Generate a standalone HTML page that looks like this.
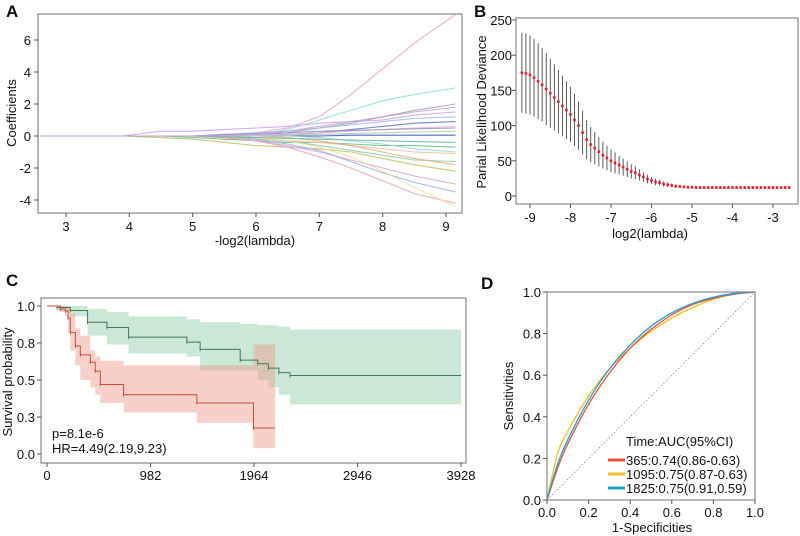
<!DOCTYPE html>
<html><head><meta charset="utf-8"><style>
html,body{margin:0;padding:0;background:#fff;}
svg{display:block;font-family:"Liberation Sans",sans-serif;}
</style></head><body>
<svg id="fig" width="800" height="536" viewBox="0 0 800 536"></svg>
<script>
// ---------- Panel A data ----------
const aLambda=[2.6,3.9,4.5,5,5.5,6,6.5,7,7.5,8,8.5,9.15];
const aSeries=[
[0,0,0,0,0.05,0.2,0.5,1.2,2.6,4.2,5.8,7.6],
[0,0,0,0,0,0.1,0.4,1.0,1.6,2.2,2.6,3.0],
[0,0,0,0,0,0.05,0.2,0.5,0.8,1.2,1.6,2.0],
[0,0,0.3,0.3,0.4,0.5,0.6,0.8,0.9,1.0,1.3,1.5],
[0,0,0,0,0.1,0.2,0.3,0.5,0.7,0.9,1.1,1.2],
[0,0,0,0,0,0,0.1,0.2,0.4,0.6,0.8,0.9],
[0,0,0,0,0,0.05,0.1,0.2,0.3,0.4,0.5,0.6],
[0,0,0,0,0,0,0,0,0.05,0.05,0.05,0.05],
[0,0,0,0,0,0,0.05,0.1,0.15,0.2,0.25,0.3],
[0,0,0,-0.1,-0.2,-0.3,-0.4,-0.4,-0.5,-0.6,-0.6,-0.7],
[0,0,0,0,-0.1,-0.2,-0.3,-0.4,-0.6,-0.8,-1.0,-1.1],
[0,0,0,0,0,-0.1,-0.3,-0.6,-0.9,-1.2,-1.5,-1.6],
[0,0,-0.1,-0.2,-0.4,-0.6,-0.7,-0.8,-1.0,-1.4,-1.8,-2.2],
[0,0,0,0,-0.1,-0.3,-0.6,-1.0,-1.5,-2.0,-2.5,-3.0],
[0,0,0,0,0,-0.2,-0.5,-0.9,-1.6,-2.3,-2.9,-3.5],
[0,0,0,0,-0.1,-0.3,-0.7,-1.3,-2.0,-2.8,-3.6,-4.2],
[0,0,0,0,0,-0.1,-0.3,-0.7,-1.3,-2.2,-3.2,-4.4],
[0,0,0,0,0,0,-0.1,-0.3,-0.6,-1.0,-1.4,-1.8],
[0,0,0,0,0,0,0,-0.1,-0.3,-0.5,-0.8,-1.0],
[0,0,0,0,0.1,0.15,0.2,0.3,0.35,0.4,0.45,0.5],
[0,0,0,0,-0.05,-0.1,-0.15,-0.2,-0.25,-0.3,-0.35,-0.4],
[0,0,0,0,0,0.1,0.3,0.6,0.9,1.2,1.5,1.8]
];
const aColors=["#f0a0c0","#8fd8d8","#a0a0a0","#c8a0e0","#a8b8e8","#6070c8","#e8b0e0","#3050c0","#b0c8a0","#60c080","#f0c0a0","#90c8a0","#c0c060","#d8a0d0","#90b0e8","#e8a0c0","#f0e0a0","#e0b080","#a0d0e0","#9090c0","#70b090","#c0a0d8"];
const aXTicks=[3,4,5,6,7,8,9];
const aYTicks=[-4,-2,0,2,4,6];
// ---------- Panel B data ----------
const bStart=-9.2, bStep=0.1;
const bMean=[175,174,172,168,163,158,152,146,140,134,128,122,116,108,100,90,80,73,68,63,58,54,50,47,44,41,38,35,33,30,27,24,22,20,19,17,16,15,14,13.5,13,
12.5,12.5,12,12,12,12,12,12,12,12,12,12,12,12,12,12,12,12,12,12,12,12,12,12,12,12];
const bHalf=[57,57,56,55,54,52,51,49,47,45,43,41,39,37,34,31,28,25,23,21,19,17.5,16,15,13,12,11,10,9,8,7,6,5,4.5,4,3.5,3,2.7,2.5,2.2,2,
2,2,2,2,2,2,2,2,2,2,2,2,2,2,2,2,2,2,2,2,2,2,2,2,2,2];
const bXTicks=[-9,-8,-7,-6,-5,-4,-3];
const bYTicks=[0,50,100,150,200,250];
// ---------- Panel C data ----------
const gTime=[0,95,221,385,569,774,1327,1453,1833,2000,2100,2200,2306];
const gSurv=[1,0.99,0.97,0.89,0.855,0.79,0.756,0.707,0.634,0.61,0.58,0.55,0.53];
const gUpper=[1,1,1,0.98,0.96,0.93,0.91,0.89,0.88,0.87,0.87,0.86,0.84];
const gLower=[1,0.97,0.93,0.8,0.74,0.68,0.66,0.565,0.565,0.5,0.45,0.4,0.335];
const gEnd=3928;
const rTime=[0,126,174,200,221,269,316,411,458,506,727,1422,1959];
const rSurv=[1,0.98,0.966,0.92,0.82,0.73,0.67,0.62,0.56,0.47,0.40,0.345,0.176];
const rUpper=[1,1,1,1,0.95,0.85,0.8,0.7,0.66,0.63,0.6,0.6,0.74];
const rLower=[1,0.96,0.93,0.82,0.7,0.6,0.5,0.45,0.4,0.345,0.28,0.21,0.04];
const rEnd=2164;
const cXTicks=[0,982,1964,2946,3928];
const cYTicks=[0,0.25,0.5,0.75,1];
const cYLabels=["0.0","0.3","0.5","0.8","1.0"];
// ---------- Panel D data ----------
const dFpr=[0,0.05,0.1,0.2,0.3,0.4,0.5,0.6,0.7,0.8,0.9,1];
const dRed=[0,0.15,0.27,0.46,0.61,0.73,0.82,0.89,0.94,0.97,0.99,1];
const dYellow=[0,0.22,0.33,0.5,0.63,0.73,0.81,0.875,0.925,0.965,0.99,1];
const dBlue=[0,0.17,0.29,0.48,0.63,0.745,0.835,0.9,0.945,0.975,0.993,1];
const dTicks=[0,0.2,0.4,0.6,0.8,1.0];
const dLegend=["365:0.74(0.86-0.63)","1095:0.75(0.87-0.63)","1825:0.75(0.91,0.59)"];

const NS="http://www.w3.org/2000/svg";
const svg=document.getElementById('fig');
function el(tag,attrs,parent){const e=document.createElementNS(NS,tag);for(const k in attrs)e.setAttribute(k,attrs[k]);(parent||svg).appendChild(e);return e;}
function txt(s,x,y,attrs,parent){const t=el('text',Object.assign({x:x,y:y,'font-size':13,fill:'#111'},attrs||{}),parent);t.textContent=s;return t;}
function lin(d0,d1,r0,r1){return v=>r0+(v-d0)/(d1-d0)*(r1-r0);}
function frame(g,x0,y0,x1,y1){el('rect',{x:x0,y:y0,width:x1-x0,height:y1-y0,fill:'none',stroke:'#888','stroke-width':1.2},g);}
function smooth(pts){let d='M'+pts[0][0]+','+pts[0][1];for(let i=0;i<pts.length-1;i++){const p0=pts[i-1]||pts[i],p1=pts[i],p2=pts[i+1],p3=pts[i+2]||p2;d+=' C'+(p1[0]+(p2[0]-p0[0])/6)+','+(p1[1]+(p2[1]-p0[1])/6)+' '+(p2[0]-(p3[0]-p1[0])/6)+','+(p2[1]-(p3[1]-p1[1])/6)+' '+p2[0]+','+p2[1];}return d;}

// ===== Panel A =====
(function(){
const g=el('g',{});


const x=lin(3,9,66,446), y=lin(0,6,136,40);
const L=txt('A',6,17,{'font-size':17,'font-weight':'bold'},g);

aSeries.forEach((s,i)=>{const p=el('polyline',{points:s.map((v,j)=>x(aLambda[j])+','+y(v)).join(' '),fill:'none',stroke:aColors[i],'stroke-width':1.1,opacity:0.85},g);
});
frame(g,38,14,462,213);
aXTicks.forEach(v=>{el('line',{x1:x(v),x2:x(v),y1:213,y2:217,stroke:'#555'},g);const t=txt(v,x(v),231,{'text-anchor':'middle'},g);});
aYTicks.forEach(v=>{el('line',{x1:34,x2:38,y1:y(v),y2:y(v),stroke:'#555'},g);const t=txt(v,31,y(v)+5,{'text-anchor':'end'},g);});
const xt=txt('-log2(lambda)',255,245,{'text-anchor':'middle'},g);
const yt=txt('Coefficients',0,0,{'text-anchor':'middle',transform:'translate(16,113) rotate(-90)'},g);
})();

// ===== Panel B =====
(function(){
const g=el('g',{});


const x=lin(-9,-3,530,773), y=lin(0,250,196,20);
const L=txt('B',474,17,{'font-size':17,'font-weight':'bold'},g);

bMean.forEach((m,i)=>{const v=bStart+i*bStep;const b=el('line',{x1:x(v),x2:x(v),y1:y(m-bHalf[i]),y2:y(m+bHalf[i]),stroke:'#333','stroke-width':0.8},g);
});
bMean.forEach((m,i)=>{const v=bStart+i*bStep;const c=el('rect',{x:x(v)-1.3,y:y(m)-1.3,width:2.6,height:2.6,fill:'#e8202a'},g);
});
frame(g,516,18,798,204);
bXTicks.forEach(v=>{el('line',{x1:x(v),x2:x(v),y1:204,y2:208,stroke:'#555'},g);const t=txt(v,x(v),222,{'text-anchor':'middle'},g);});
bYTicks.forEach(v=>{el('line',{x1:512,x2:516,y1:y(v),y2:y(v),stroke:'#555'},g);const t=txt(v,512,y(v)+5,{'text-anchor':'end'},g);});
const xt=txt('log2(lambda)',650,238,{'text-anchor':'middle'},g);
const yt=txt('Parial Likelihood Deviance',0,0,{'text-anchor':'middle',transform:'translate(486,112) rotate(-90)'},g);
})();

// ===== Panel C =====
(function(){
const g=el('g',{});


const x=lin(0,3928,47,461), y=lin(0,1,454,306);
const L=txt('C',6,286,{'font-size':17,'font-weight':'bold'},g);

function stepPts(t,s,end){let p=[];for(let i=0;i<t.length;i++){const nx=i+1<t.length?t[i+1]:end;p.push([x(t[i]),y(s[i])],[x(nx),y(s[i])]);}return p;}
function band(t,u,l,end,col,name){const up=stepPts(t,u,end),lo=stepPts(t,l,end).reverse();const b=el('polygon',{points:up.concat(lo).map(p=>p.join(',')).join(' '),fill:col,opacity:0.45},g);}
band(gTime,gUpper,gLower,gEnd,'#8cc9a4','high-risk-ci-band');
band(rTime,rUpper,rLower,rEnd,'#ee9a88','low-risk-ci-band');
function curve(t,s,end,col,name){const pts=stepPts(t,s,end);const p=el('polyline',{points:pts.map(p=>p.join(',')).join(' '),fill:'none',stroke:col,'stroke-width':1},g);
t.forEach((v,i)=>{if(i>0){el('line',{x1:x(v),x2:x(v),y1:y(s[i])-2,y2:y(s[i])+2,stroke:col,'stroke-width':0.8},g);}});}
curve(gTime,gSurv,gEnd,'#3e7a56','green-survival-curve');
curve(rTime,rSurv,rEnd,'#c84a3a','red-survival-curve');
frame(g,41,298,466,463);
cXTicks.forEach(v=>{el('line',{x1:x(v),x2:x(v),y1:463,y2:467,stroke:'#555'},g);const t=txt(v,x(v),480,{'text-anchor':'middle'},g);});
cYTicks.forEach((v,i)=>{el('line',{x1:37,x2:41,y1:y(v),y2:y(v),stroke:'#555'},g);const t=txt(cYLabels[i],35,y(v)+5,{'text-anchor':'end'},g);});
const p1=txt('p=8.1e-6',52,438,{},g);
const p2=txt('HR=4.49(2.19,9.23)',52,453,{},g);
const yt=txt('Survival probability',0,0,{'text-anchor':'middle',transform:'translate(12,382) rotate(-90)'},g);
})();

// ===== Panel D =====
(function(){
const g=el('g',{});


const x=lin(0,1,547,755), y=lin(0,1,500,292);
const L=txt('D',481,289,{'font-size':17,'font-weight':'bold'},g);

const dg=el('line',{x1:x(0),y1:y(0),x2:x(1),y2:y(1),stroke:'#999','stroke-dasharray':'1.5,2','stroke-width':0.9},g);

[[dYellow,'#f0c020','roc-1095'],[dRed,'#e8503a','roc-365'],[dBlue,'#20a0d0','roc-1825']].forEach(c=>{
const p=el('path',{d:smooth(dFpr.map((f,i)=>[x(f),y(c[0][i])])),fill:'none',stroke:c[1],'stroke-width':1.3},g);
});
frame(g,547,292,755,500);
dTicks.forEach(v=>{el('line',{x1:x(v),x2:x(v),y1:500,y2:504,stroke:'#555'},g);const t=txt(v.toFixed(1),x(v),517,{'text-anchor':'middle'},g);
el('line',{x1:543,x2:547,y1:y(v),y2:y(v),stroke:'#555'},g);const t2=txt(v.toFixed(1),541,y(v)+5,{'text-anchor':'end'},g);});
const xt=txt('1-Specificities',652,532,{'text-anchor':'middle'},g);
const yt=txt('Sensitivities',0,0,{'text-anchor':'middle',transform:'translate(513,396) rotate(-90)'},g);
const lt=txt('Time:AUC(95%CI)',626,446,{},g);
const lc=['#e8503a','#f0c020','#20a0d0'];
dLegend.forEach((s,i)=>{const yy=460+i*14;el('line',{x1:608,x2:625,y1:yy,y2:yy,stroke:lc[i],'stroke-width':3},g);const t=txt(s,626,yy+5,{},g);});
})();
</script>
</body></html>
